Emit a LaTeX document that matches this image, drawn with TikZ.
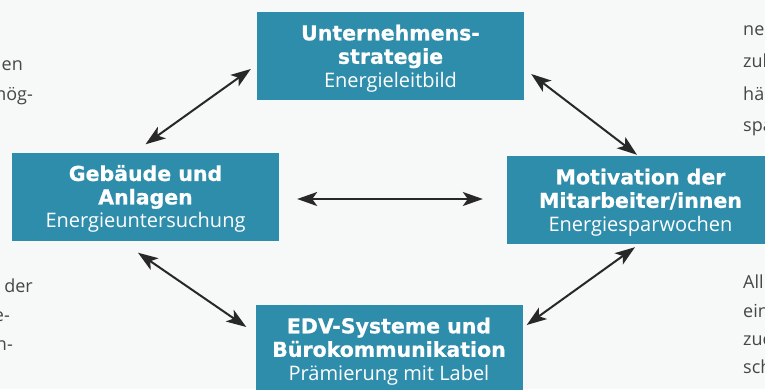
\documentclass[tikz,border=0pt]{standalone}
\usepackage{fontspec}
\setmainfont{Open Sans}
\newfontfamily\titlefont{DejaVu Sans}[BoldFeatures={FakeBold=0.8}]
\newfontfamily\subfont{Open Sans}
\usetikzlibrary{arrows.meta}
\definecolor{boxblue}{RGB}{46,141,170}
\definecolor{pagebg}{RGB}{246,249,248}
\definecolor{arrowgray}{RGB}{40,40,40}
\definecolor{sidegray}{RGB}{70,70,70}
\newcommand{\ttlline}[1]{{\titlefont\bfseries\fontsize{20.5}{23.5}\selectfont #1}}
\begin{document}
\begin{tikzpicture}[x=1pt,y=-1pt,
  box/.style={fill=boxblue, minimum width=267pt, minimum height=88pt, inner sep=0pt,
    text depth=0pt, text=white, align=center, font=\subfont\fontsize{20}{23.5}\selectfont},
  conn/.style={draw=arrowgray, line width=2pt,
    {Stealth[length=20pt,width=14pt,inset=5pt]}-{Stealth[length=20pt,width=14pt,inset=5pt]}},
  side/.style={text=sidegray, font=\fontsize{18}{22}\selectfont, inner sep=0pt}]
\clip (0,0) rectangle (765,389);
\fill[pagebg] (0,0) rectangle (765,389);
% boxes
\node[box] (T) at (390.5,56) {\ttlline{Unternehmens-}\\\ttlline{strategie}\\Energieleitbild};
\node[box] (L) at (145.5,196.5) {\ttlline{Gebäude und}\\\ttlline{Anlagen}\\Energieuntersuchung};
\node[box] (R) at (640.5,200) {\ttlline{Motivation der}\\\ttlline{Mitarbeiter/innen}\\Energiesparwochen};
\node[box] (B) at (389,349) {\ttlline{EDV-Systeme und}\\\ttlline{Bürokommunikation}\\Prämierung mit Label};
% connectors
\draw[conn] ([yshift=8pt]L.north) -- ([xshift=-6pt,yshift=-13pt]T.west);
\draw[conn] ([xshift=7pt,yshift=-18pt]T.east) -- ([xshift=-3.5pt,yshift=1pt]R.north);
\draw[conn] ([xshift=18pt,yshift=-2.5pt]L.east) -- ([xshift=-24pt,yshift=1pt]R.west);
\draw[conn] ([xshift=-7.5pt,yshift=-12pt]L.south) -- ([xshift=-9pt,yshift=22pt]B.west);
\draw[conn] ([xshift=4pt,yshift=24pt]B.east) -- ([xshift=-5.5pt,yshift=-3pt]R.south);
% page text fragments
\node[side, anchor=base east] (s1) at (23,70) {en};
\node[side, anchor=base east] (s2) at (33,100) {mög-};
\node[side, anchor=base east] (s3) at (33,292) {der};
\node[side, anchor=base east] (s4) at (10,321) {e-};
\node[side, anchor=base east] (s5) at (13,350) {n-};
\node[side, anchor=base west] (s6) at (743,35) {ne};
\node[side, anchor=base west] (s7) at (743,67) {zul};
\node[side, anchor=base west] (s8) at (743,100) {hä};
\node[side, anchor=base west] (s9) at (743,131) {spa};
\node[side, anchor=base west] (s10) at (743,288) {All};
\node[side, anchor=base west] (s11) at (743,317) {ein};
\node[side, anchor=base west] (s12) at (743,345) {zuc};
\node[side, anchor=base west] (s13) at (743,373) {sch};
\end{tikzpicture}
\end{document}
